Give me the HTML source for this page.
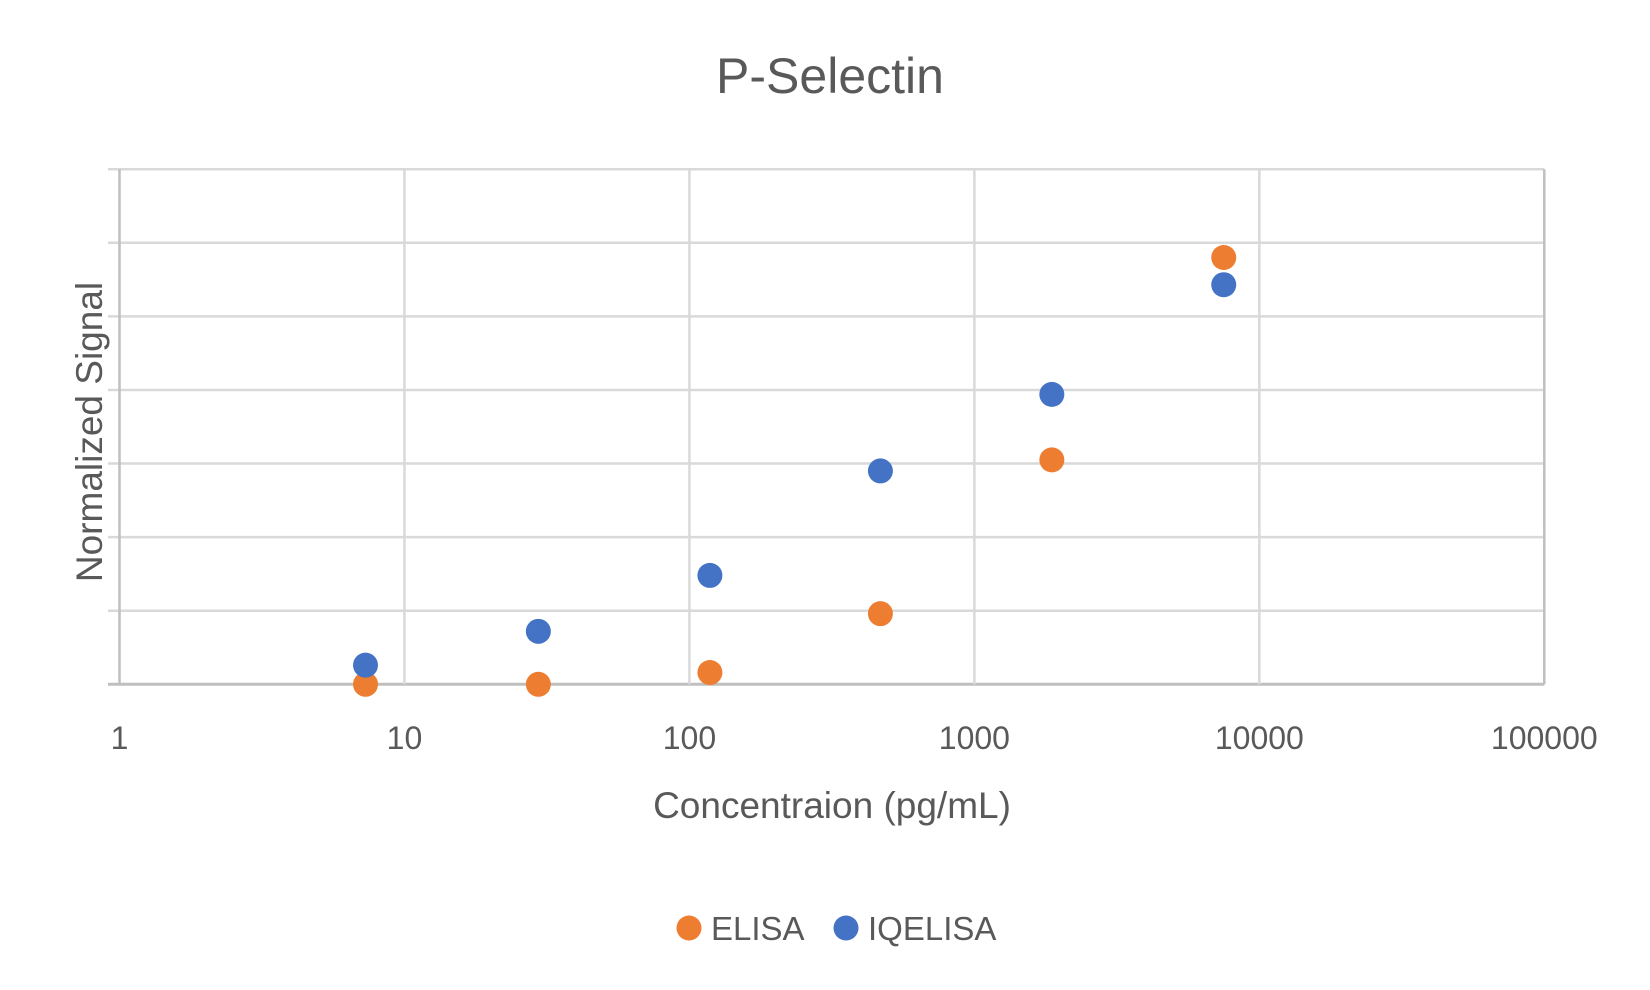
<!DOCTYPE html>
<html><head><meta charset="utf-8"><style>
html,body{margin:0;padding:0;background:#fff;}
svg{display:block;font-family:"Liberation Sans",sans-serif;}
</style></head><body>
<svg id="chart" width="1650" height="990" viewBox="0 0 1650 990" xmlns="http://www.w3.org/2000/svg">
<text x="830" y="93" text-anchor="middle" font-size="50" fill="#595959">P-Selectin</text>
<g id="grid"></g>
<g id="ticks"></g>
<g id="points"></g>
<text x="832" y="818" text-anchor="middle" font-size="37" fill="#595959">Concentraion (pg/mL)</text>
<text transform="translate(102,432) rotate(-90)" text-anchor="middle" font-size="37" fill="#595959">Normalized Signal</text>
<g>
<g><circle cx="689" cy="928" r="12.5" fill="#ED7D31"/><text x="711" y="940" font-size="33" fill="#595959">ELISA</text></g>
<g><circle cx="846" cy="928" r="12.5" fill="#4472C4"/><text x="868" y="940" font-size="33" fill="#595959">IQELISA</text></g>
</g>
</svg>
<script>
const xTickLabels=["1","10","100","1000","10000","100000"];
const yGridValues=[0,1,2,3,4,5,6,7];
const concentrations=[7.3,29.5,118,468,1870,7500];
const elisaValues=[0,0,0.16,0.96,3.05,5.8];
const iqelisaValues=[0.26,0.72,1.48,2.9,3.94,5.43];
const L=119.5,R=1544.3,T=169.2,B=684.3;
const xMinLog=0,xMaxLog=5,yMin=0,yMax=7;
function xs(v){return L+(Math.log10(v)-xMinLog)/(xMaxLog-xMinLog)*(R-L);}
function ys(v){return B-(v-yMin)/(yMax-yMin)*(B-T);}
const NS="http://www.w3.org/2000/svg";
const grid=document.getElementById('grid'),ticks=document.getElementById('ticks'),pts=document.getElementById('points');
function mk(tag,attrs,parent){const e=document.createElementNS(NS,tag);for(const k in attrs)e.setAttribute(k,attrs[k]);parent.appendChild(e);return e;}
yGridValues.forEach(v=>{
  const y=ys(v);
  const ln=mk('line',{x1:108,x2:R,y1:y,y2:y,stroke:v===0?'#bfbfbf':'#d9d9d9','stroke-width':v===0?3:2.5},grid);
  
  
});
xTickLabels.forEach(t=>{
  const x=xs(parseFloat(t));
  const ln=mk('line',{x1:x,x2:x,y1:T,y2:B,stroke:(t==="1"||t==="100000")?'#bfbfbf':'#d9d9d9','stroke-width':2.5},grid);
  
  
  const tx=mk('text',{x:x,y:749,'text-anchor':'middle','font-size':32,fill:'#595959'},ticks);
  tx.textContent=t;
  
  
});
concentrations.forEach((c,i)=>{
  const a=mk('circle',{cx:xs(c),cy:ys(elisaValues[i]),r:12.5,fill:'#ED7D31'},pts);
  
  
});
concentrations.forEach((c,i)=>{
  const b=mk('circle',{cx:xs(c),cy:ys(iqelisaValues[i]),r:12.5,fill:'#4472C4'},pts);
  
  
});
</script>
</body></html>
